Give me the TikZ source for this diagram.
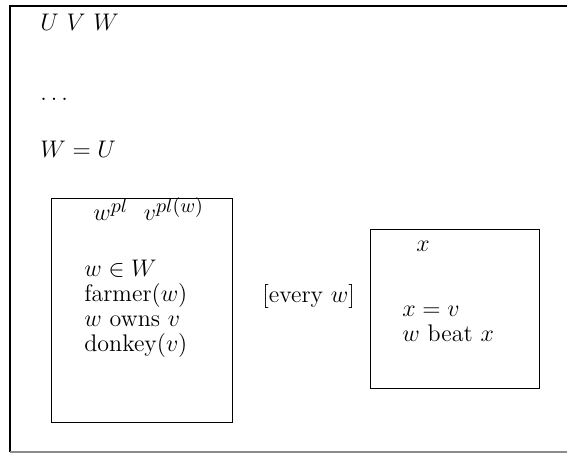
\documentclass[tikz,border=0pt]{standalone}
\usepackage{amsmath}
\usepackage{amssymb}
\usetikzlibrary{positioning}

\newcommand{\drssup}[1]{^{\mbox{\normalsize$#1$}}}

\tikzset{
  drsbox/.style={draw, line width=0.7pt, rectangle, inner sep=0pt, anchor=north west},
  cond/.style={anchor=base west, inner sep=0pt, align=left, font=\large},
}

\begin{document}
\begin{tikzpicture}[x=0.5pt, y=-0.5pt]
    \useasboundingbox (0,0) rectangle (567,453);
    % outer box, open to the right
    \draw[line width=0.7pt] (600,6) -- (10,6) -- (10,452);
    \draw[line width=0.6pt, black!45] (10,452) -- (600,452);

    \node[cond] (refs) at (40,31) {$U\ V\ W$};
    \node[cond] (dots) at (40,101) {$\ldots$};
    \node[cond] (eq) at (40,158) {$W=U$};

    % restrictor box
    \node[drsbox, minimum width=90.5pt, minimum height=112pt] (resbox) at (51,198) {};
    \node[cond] (resrefs) at (93,221) {$w\drssup{pl}\ \ v\drssup{pl(w)}$};
    \node[cond] (c1) at (84,277) {$w\in W$};
    \node[cond] (c2) at (84,302) {farmer$(w)$};
    \node[cond] (c3) at (84,327) {$w$ owns $v$};
    \node[cond] (c4) at (84,352) {donkey$(v)$};

    \node[cond] (quant) at (262,303) {[every $w$]};

    % scope box
    \node[drsbox, minimum width=84.5pt, minimum height=79.5pt] (scbox) at (370,229) {};
    \node[cond] (screfs) at (416,252) {$x$};
    \node[cond] (d1) at (402,317) {$x=v$};
    \node[cond] (d2) at (402,342) {$w$ beat $x$};
\end{tikzpicture}
\end{document}
